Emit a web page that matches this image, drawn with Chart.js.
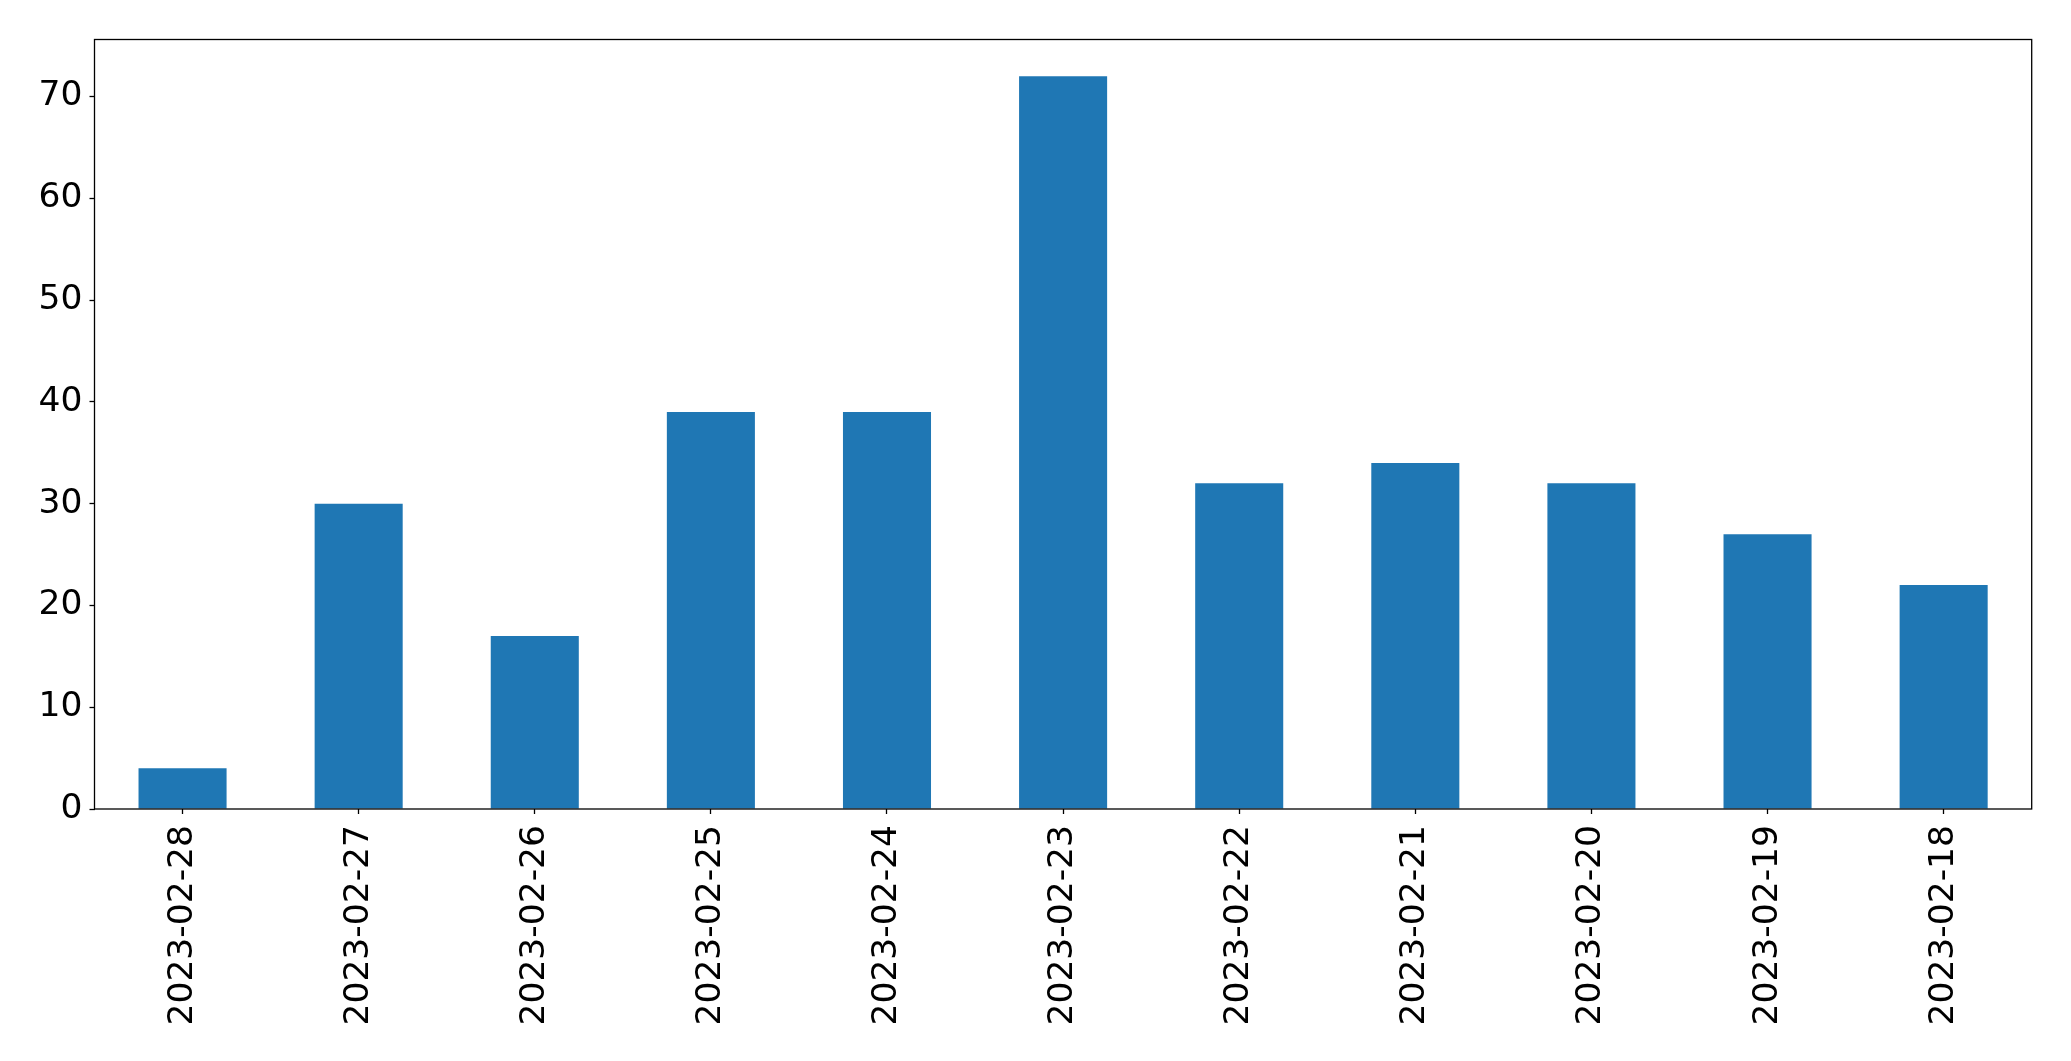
<!DOCTYPE html>
<html>
<head>
<meta charset="utf-8">
<script src="https://cdn.jsdelivr.net/npm/chart.js@4/dist/chart.umd.min.js"></script>
<style>
html,body{margin:0;padding:0;background:#fff;}
#wrap{width:2071px;height:1061px;position:relative;}
</style>
</head>
<body>
<div id="wrap"><canvas id="c" width="2071" height="1061"></canvas></div>
<script>
const categories = ["2023-02-28","2023-02-27","2023-02-26","2023-02-25","2023-02-24","2023-02-23","2023-02-22","2023-02-21","2023-02-20","2023-02-19","2023-02-18"];
const counts = [4, 30, 17, 39, 39, 72, 32, 34, 32, 27, 22];
const yTicks = [0, 10, 20, 30, 40, 50, 60, 70];
const yMax = 75.6;

const frame = {
  id: 'frame',
  afterDatasetsDraw(chart) {
    const a = chart.chartArea, ctx = chart.ctx;
    ctx.save();
    ctx.strokeStyle = '#000';
    ctx.lineWidth = 1.3;
    ctx.strokeRect(a.left, a.top, a.right - a.left, a.bottom - a.top);
    ctx.restore();
  }
};

new Chart(document.getElementById('c'), {
  type: 'bar',
  data: {
    labels: categories,
    datasets: [{
      data: counts,
      backgroundColor: '#1f77b4',
      borderWidth: 0,
      barPercentage: 0.5,
      categoryPercentage: 1.0
    }]
  },
  options: {
    responsive: false,
    animation: false,
    devicePixelRatio: 1,
    layout: { padding: { left: 0, top: 39.5, right: 39.3, bottom: 0 } },
    plugins: { legend: { display: false }, tooltip: { enabled: false } },
    scales: {
      x: {
        grid: { display: true, offset: false, drawOnChartArea: false, tickLength: 5, tickColor: '#000', tickWidth: 1.3 },
        border: { display: false },
        ticks: {
          color: '#000',
          font: { family: 'DejaVu Sans', size: 34.5 },
          maxRotation: 90, minRotation: 90,
          autoSkip: false,
          padding: 11
        },
        afterFit(s) { s.height = 252; }
      },
      y: {
        min: 0, max: yMax,
        grid: { display: true, drawOnChartArea: false, tickLength: 5, tickColor: '#000', tickWidth: 1.3 },
        border: { display: false },
        afterBuildTicks(s) { s.ticks = yTicks.map(v => ({ value: v })); },
        ticks: {
          color: '#000',
          font: { family: 'DejaVu Sans', size: 34.5 },
          padding: 7
        },
        afterFit(s) { s.width = 94.5; }
      }
    }
  },
  plugins: [frame]
});
</script>
</body>
</html>
